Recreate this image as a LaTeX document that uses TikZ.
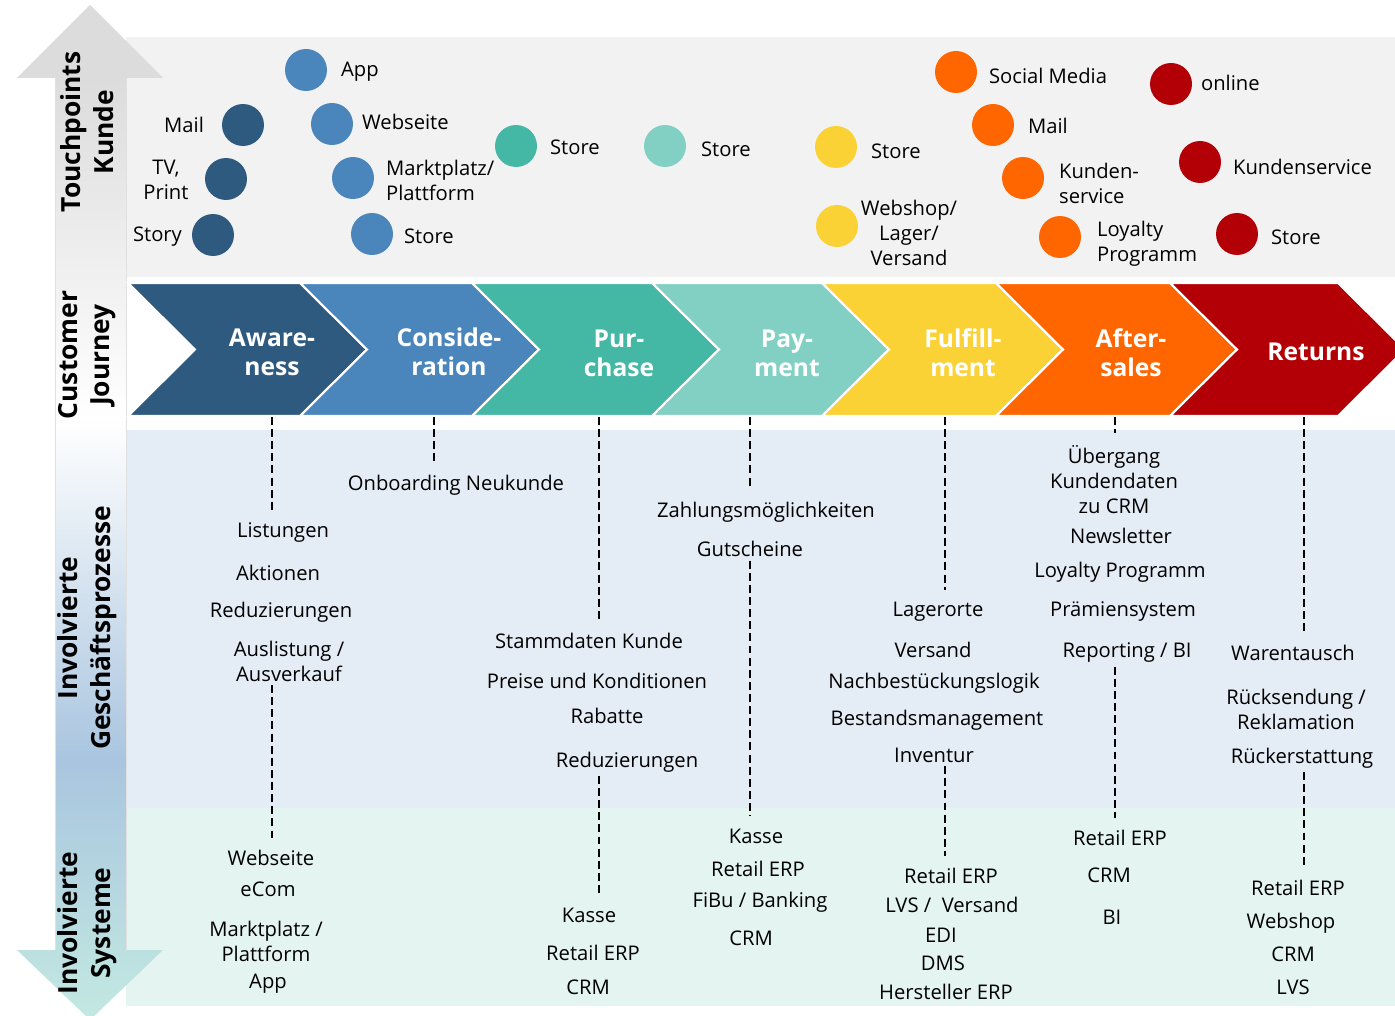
\documentclass[tikz,border=0pt]{standalone}
\usepackage{fontspec}
\setmainfont{Open Sans}
\usepackage{tikz}

\definecolor{awareblue}{HTML}{2F5A80}
\definecolor{considblue}{HTML}{4A86BC}
\definecolor{purchteal}{HTML}{45B8A5}
\definecolor{payteal}{HTML}{82D0C4}
\definecolor{fulfilyellow}{HTML}{FAD236}
\definecolor{afterorange}{HTML}{FF6600}
\definecolor{returnred}{HTML}{B30006}
\definecolor{tpgray}{HTML}{F2F2F2}
\definecolor{procblue}{HTML}{E4ECF5}
\definecolor{sysmint}{HTML}{E3F4F1}
\definecolor{arrowgray}{HTML}{DCDCDC}
\definecolor{arrowblue}{HTML}{A9C5DF}
\definecolor{arrowmint}{HTML}{C3E9E1}

\tikzset{
  tpdot/.style={circle,inner sep=0pt,minimum size=0.84cm},
  tp/.style={font=\fontsize{11.5}{14.2}\selectfont,inner sep=1pt,align=left},
  proc/.style={font=\fontsize{11.5}{14.2}\selectfont,inner sep=2pt,align=center},
  chev/.style={draw=white,line width=1.2pt},
  chevtext/.style={text=white,font=\bfseries\fontsize{14}{16.5}\selectfont,align=center},
  side/.style={rotate=90,font=\bfseries\fontsize{15}{18.5}\selectfont,align=center},
  conn/.style={dash pattern=on 4.5pt off 2.4pt,line width=1.6pt,shorten >=5pt}
}

\begin{document}
\begin{tikzpicture}[x=0.02cm,y=-0.02cm]
  \useasboundingbox (0,0) rectangle (1395,1016);
  \clip (0,0) rectangle (1395,1016);

  % bands
  \fill[tpgray] (126,37) rectangle (1395,277);
  \fill[procblue] (126,430) rectangle (1395,808);
  \fill[sysmint] (126,808) rectangle (1395,1006);

  % side arrow
  \begin{scope}
    \clip (55,78) -- (17,78) -- (90,5) -- (163,78) -- (126,78) -- (126,950)
      -- (163,950) -- (90,1020) -- (17,950) -- (55,950) -- cycle;
    \fill[arrowgray] (0,0) rectangle (200,80);
    \shade[top color=arrowgray,bottom color=white] (0,78) rectangle (200,420);
    \shade[top color=white,bottom color=arrowblue] (0,419) rectangle (200,760);
    \shade[top color=arrowblue,bottom color=arrowmint] (0,759) rectangle (200,1020);
  \end{scope}
  \draw[black!12] (55,78) -- (55,950);
  \draw[black!12] (126,78) -- (126,950);

  \node[side] (sidetp) at (87,132) {Touchpoints\\Kunde};
  \node[side] (sidecj) at (87,355) {Customer\\Journey};
  \node[side] (sidegp) at (87,628) {Involvierte\\Geschäftsprozesse};
  \node[side] (sidesys) at (87,923) {Involvierte\\Systeme};

  % touchpoints
  \node[tpdot,fill=awareblue] (tpmail) at (243,125) {};
  \node[tp,anchor=east] (tpmailtxt) at (206,125) {Mail};
  \node[tpdot,fill=awareblue] (tptv) at (226,179) {};
  \node[tp,align=center] (tptvtxt) at (166,180) {TV,\\Print};
  \node[tpdot,fill=awareblue] (tpstory) at (213,235) {};
  \node[tp,anchor=east] (tpstorytxt) at (184,237) {Story};

  \node[tpdot,fill=considblue] (tpapp) at (306,70) {};
  \node[tp,anchor=west] (tpapptxt) at (339,72) {App};
  \node[tpdot,fill=considblue] (tpweb) at (332,124) {};
  \node[tp,anchor=west] (tpwebtxt) at (360,122) {Webseite};
  \node[tpdot,fill=considblue] (tpmarkt) at (353,178) {};
  \node[tp,anchor=west] (tpmarkttxt) at (384,180) {Marktplatz/\\Plattform};
  \node[tpdot,fill=considblue] (tpstoreb) at (372,234) {};
  \node[tp,anchor=west] (tpstorebtxt) at (402,236) {Store};

  \node[tpdot,fill=purchteal] (tpstorep) at (516,146) {};
  \node[tp,anchor=west] (tpstoreptxt) at (548,147) {Store};

  \node[tpdot,fill=payteal] (tpstorepay) at (665,146) {};
  \node[tp,anchor=west] (tpstorepaytxt) at (699,149) {Store};

  \node[tpdot,fill=fulfilyellow] (tpstoref) at (836,147) {};
  \node[tp,anchor=west] (tpstoreftxt) at (869,151) {Store};
  \node[tpdot,fill=fulfilyellow] (tpwebshop) at (837,226) {};
  \node[tp,align=center] (tpwebshoptxt) at (909,233) {Webshop/\\Lager/\\Versand};

  \node[tpdot,fill=afterorange] (tpsocial) at (956,72) {};
  \node[tp,anchor=west] (tpsocialtxt) at (987,76) {Social Media};
  \node[tpdot,fill=afterorange] (tpmaila) at (993,125) {};
  \node[tp,anchor=west] (tpmailatxt) at (1026,126) {Mail};
  \node[tpdot,fill=afterorange] (tpkunden) at (1023,178) {};
  \node[tp,anchor=west] (tpkundentxt) at (1057,183) {Kunden-\\service};
  \node[tpdot,fill=afterorange] (tployal) at (1060,237) {};
  \node[tp,anchor=west] (tployaltxt) at (1095,244) {Loyalty\\Programm};

  \node[tpdot,fill=returnred] (tponline) at (1171,84) {};
  \node[tp,anchor=west] (tponlinetxt) at (1199,83) {online};
  \node[tpdot,fill=returnred] (tpservice) at (1200,162) {};
  \node[tp,anchor=west] (tpservicetxt) at (1231,167) {Kundenservice};
  \node[tpdot,fill=returnred] (tpstorer) at (1237,234) {};
  \node[tp,anchor=west] (tpstorertxt) at (1269,237) {Store};

  % customer journey
  \filldraw[chev,fill=awareblue] (128,283) -- (300,283) -- (367,349.5) -- (300,416) -- (128,416) -- (195,349.5) -- cycle;
  \filldraw[chev,fill=considblue] (300,283) -- (472,283) -- (539,349.5) -- (472,416) -- (300,416) -- (367,349.5) -- cycle;
  \filldraw[chev,fill=purchteal] (472,283) -- (652,283) -- (719,349.5) -- (652,416) -- (472,416) -- (539,349.5) -- cycle;
  \filldraw[chev,fill=payteal] (652,283) -- (822,283) -- (889,349.5) -- (822,416) -- (652,416) -- (719,349.5) -- cycle;
  \filldraw[chev,fill=fulfilyellow] (822,283) -- (996,283) -- (1063,349.5) -- (996,416) -- (822,416) -- (889,349.5) -- cycle;
  \filldraw[chev,fill=afterorange] (996,283) -- (1170,283) -- (1237,349.5) -- (1170,416) -- (996,416) -- (1063,349.5) -- cycle;
  \filldraw[chev,fill=returnred] (1170,283) -- (1338,283) -- (1405,349.5) -- (1338,416) -- (1170,416) -- (1237,349.5) -- cycle;

  \node[chevtext] (aware) at (272,352) {Aware-\\ness};
  \node[chevtext] (consid) at (449,352) {Conside-\\ration};
  \node[chevtext] (purch) at (619,353) {Pur-\\chase};
  \node[chevtext] (pay) at (787,353) {Pay-\\ment};
  \node[chevtext] (fulfil) at (963,353) {Fulfill-\\ment};
  \node[chevtext] (after) at (1131,353) {After-\\sales};
  \node[chevtext] (returns) at (1316,352) {Returns};

  \coordinate (awarefoot) at (272,417);
  \coordinate (considfoot) at (434,417);
  \coordinate (purchfoot) at (599,417);
  \coordinate (payfoot) at (750,417);
  \coordinate (fulfilfoot) at (945,417);
  \coordinate (afterfoot) at (1115,417);
  \coordinate (returnsfoot) at (1304,417);

  % processes
  \node[proc] (listungen) at (283,533) {Listungen};
  \node[proc] (aktionen) at (278,573) {Aktionen};
  \node[proc] (reduzaware) at (281,612) {Reduzierungen};
  \node[proc] (auslistung) at (289,661) {Auslistung /\\Ausverkauf};

  \node[proc] (onboarding) at (456,485) {Onboarding Neukunde};

  \node[proc] (stammdaten) at (589,641) {Stammdaten Kunde};
  \node[proc] (preise) at (597,681) {Preise und Konditionen};
  \node[proc] (rabatte) at (607,716) {Rabatte};
  \node[proc] (reduzpurch) at (627,762) {Reduzierungen};

  \node[proc] (zahlung) at (766,512) {Zahlungsmöglichkeiten};
  \node[proc] (gutscheine) at (750,549) {Gutscheine};

  \node[proc] (lagerorte) at (938,612) {Lagerorte};
  \node[proc] (versand) at (933,650) {Versand};
  \node[proc] (nachbest) at (934,683) {Nachbestückungslogik};
  \node[proc] (bestand) at (937,720) {Bestandsmanagement};
  \node[proc] (inventur) at (934,755) {Inventur};

  \node[proc] (uebergang) at (1114,480) {Übergang\\Kundendaten\\zu CRM};
  \node[proc] (newsletter) at (1121,536) {Newsletter};
  \node[proc] (loyalty) at (1120,572) {Loyalty Programm};
  \node[proc] (praemien) at (1123,612) {Prämiensystem};
  \node[proc] (reporting) at (1127,653) {Reporting / BI};

  \node[proc] (warentausch) at (1293,653) {Warentausch};
  \node[proc] (ruecksendung) at (1296,709) {Rücksendung /\\Reklamation};
  \node[proc] (rueckerst) at (1302,758) {Rückerstattung};

  % systems
  \node[proc] (webseite) at (271,858) {Webseite};
  \node[proc] (ecom) at (268,889) {eCom};
  \node[proc] (marktplatz) at (266,941) {Marktplatz /\\Plattform};
  \node[proc] (app) at (268,984) {App};

  \node[proc] (kassepurch) at (589,915) {Kasse};
  \node[proc] (erppurch) at (593,953) {Retail ERP};
  \node[proc] (crmpurch) at (588,987) {CRM};

  \node[proc] (kassepay) at (756,836) {Kasse};
  \node[proc] (erppay) at (758,869) {Retail ERP};
  \node[proc] (fibu) at (760,902) {FiBu / Banking};
  \node[proc] (crmpay) at (751,938) {CRM};

  \node[proc] (erpfulfil) at (951,876) {Retail ERP};
  \node[proc] (lvsfulfil) at (952,905) {LVS / \ Versand};
  \node[proc] (edi) at (941,935) {EDI};
  \node[proc] (dms) at (943,963) {DMS};
  \node[proc] (hersteller) at (946,992) {Hersteller ERP};

  \node[proc] (erpafter) at (1120,838) {Retail ERP};
  \node[proc] (crmafter) at (1109,875) {CRM};
  \node[proc] (biafter) at (1112,917) {BI};

  \node[proc] (erpreturns) at (1298,888) {Retail ERP};
  \node[proc] (webshop) at (1291,923) {Webshop};
  \node[proc] (crmreturns) at (1293,954) {CRM};
  \node[proc] (lvsreturns) at (1293,987) {LVS};

  % connectors
  \draw[conn] (awarefoot) -- (awarefoot |- listungen.north);
  \draw[conn] (awarefoot |- auslistung.south) -- (awarefoot |- webseite.north);
  \draw[conn] (considfoot) -- (considfoot |- onboarding.north);
  \draw[conn] (purchfoot) -- (purchfoot |- stammdaten.north);
  \draw[conn] (purchfoot |- reduzpurch.south) -- (purchfoot |- kassepurch.north);
  \draw[conn] (payfoot) -- (payfoot |- zahlung.north);
  \draw[conn] (payfoot |- gutscheine.south) -- (payfoot |- kassepay.north);
  \draw[conn] (fulfilfoot) -- (fulfilfoot |- lagerorte.north);
  \draw[conn] (fulfilfoot |- inventur.south) -- (fulfilfoot |- erpfulfil.north);
  \draw[conn] (afterfoot) -- (afterfoot |- uebergang.north);
  \draw[conn] (afterfoot |- reporting.south) -- (afterfoot |- erpafter.north);
  \draw[conn] (returnsfoot) -- (returnsfoot |- warentausch.north);
  \draw[conn] (returnsfoot |- rueckerst.south) -- (returnsfoot |- erpreturns.north);
\end{tikzpicture}
\end{document}
